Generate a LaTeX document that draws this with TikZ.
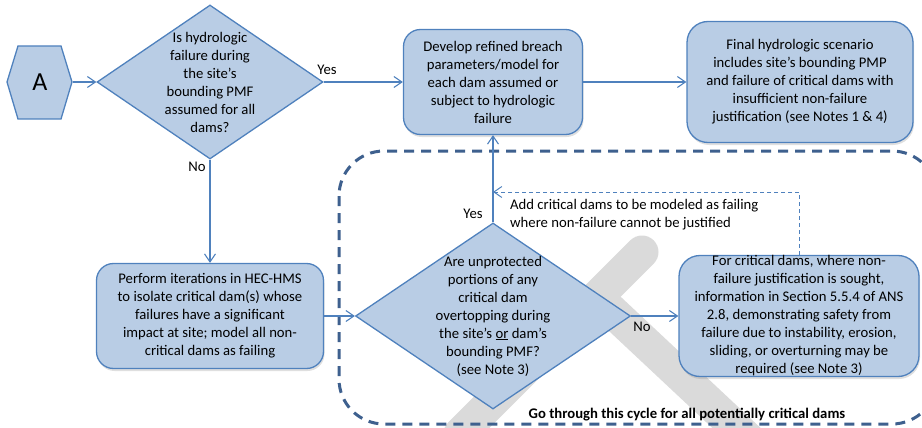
\documentclass[tikz,border=0pt]{standalone}
\usepackage{fontspec}
\setmainfont{Carlito}
\usepackage{tikz}
\usetikzlibrary{
  arrows.meta,
  shapes.geometric,
  chains,
  positioning,
  scopes,
  shadows
}
\definecolor{boxfill}{RGB}{185,205,229}
\definecolor{boxline}{RGB}{79,129,189}
\definecolor{loopline}{RGB}{62,96,142}
\definecolor{bandgray}{RGB}{218,218,218}

\begin{document}
\begin{tikzpicture}[
      x=1pt,y=-1pt,
      font=\fontsize{14.7}{18}\selectfont,
      process/.style={
         rectangle,
         rounded corners=17pt,
         draw=boxline,
         line width=1.3pt,
         fill=boxfill,
         align=center,
         inner sep=0pt,
         drop shadow={shadow xshift=1pt,shadow yshift=-2.5pt,opacity=0.25}
      },
      decision/.style={
         diamond,
         draw=boxline,
         line width=1.3pt,
         fill=boxfill,
         inner sep=0pt
      },
      hexagon/.style={draw=boxline,line width=1.3pt,fill=boxfill},
      point/.style={coordinate},
      >={Straight Barb[length=8pt,width=11pt]},
      tip/.style={->},
      every join/.style={draw=boxline,line width=1.1pt},
      feedback/.style={line width=1pt,dash pattern=on 4pt off 3pt},
      band/.style={draw=bandgray,line width=33pt,line cap=round},
      loop frame/.style={draw=loopline,line width=3pt,dash pattern=on 10pt off 7pt,rounded corners=45pt}
    ]
    \useasboundingbox (0,0) rectangle (922,428);
    \clip (0,0) rectangle (922,428);
    % background marks
    \draw[band] (460,434) -- (642,252);
    \draw[band] (600,300) -- (760,450);
    \draw[loop frame] (339,151) rectangle (937,424);
    \draw[hexagon] (7,82) -- (18,46) -- (61,46) -- (72,82) -- (61,119) -- (18,119) -- cycle;
    % nodes
    \node (n11) [minimum width=65pt, minimum height=73pt, inner sep=0pt] at (40,82) {\fontsize{26}{30}\selectfont A};
    \node (n12) [decision, minimum width=226pt, minimum height=154pt,
       label={[name=t12,align=center]center:Is hydrologic\\failure during\\the site’s\\bounding PMF\\assumed for all\\dams?}] at (210,82) {};
    \node (n13) [process, minimum width=179pt, minimum height=105pt] at (493,82)
       {Develop refined breach\\parameters/model for\\each dam assumed or\\subject to hydrologic\\failure};
    \node (n14) [process, rounded corners=21pt, minimum width=226pt, minimum height=121pt] at (800,82)
       {Final hydrologic scenario\\includes site’s bounding PMP\\and failure of critical dams with\\insufficient non-failure\\justification (see Notes 1 \& 4)};
    \node (n22) [process, minimum width=227pt, minimum height=105pt] at (210,316)
       {Perform iterations in HEC-HMS\\to isolate critical dam(s) whose\\failures have a significant\\impact at site; model all non-\\critical dams as failing};
    \node (n23) [decision, minimum width=275pt, minimum height=186pt,
       label={[name=t23,align=center]center:Are unprotected\\portions of any\\critical dam\\overtopping during\\the site’s \underline{or} dam’s\\bounding PMF?\\(see Note 3)}] at (493,316) {};
    \node (n24) [process, rounded corners=21pt, minimum width=240pt, minimum height=121pt] at (799,316)
       {For critical dams, where non-\\failure justification is sought,\\information in Section 5.5.4 of ANS\\2.8, demonstrating safety from\\failure due to instability, erosion,\\sliding, or overturning may be\\required (see Note 3)};
    \node (n34) [point] at (799,192) {};
    \node (n33) [point] at (493,192) {};
    % labels
    \node (l1) at (327,70) {Yes};
    \node (l2) at (197,167) {No};
    \node (l3) at (473,214) {Yes};
    \node (l4) at (642,327) {No};
    \node (l5) [anchor=west, align=left, inner sep=0pt] at (510,214.5)
       {Add critical dams to be modeled as failing\\where non-failure cannot be justified};
    \node (l6) at (687,415) {\bfseries Go through this cycle for all potentially critical dams};
  { [start chain]
       \chainin (n11);
       \chainin (n12)    [join=by tip];
       \chainin (n13)    [join=by tip];
       \chainin (n14)    [join=by tip];
  }
  { [start chain]
       \chainin (n12);
       \chainin (n22)    [join=by tip];
       \chainin (n23)    [join=by tip];
       \chainin (n13)    [join=by tip];
  }
  { [start chain]
       \chainin (n23);
       \chainin (n24)    [join=by tip];
       \chainin (n34)    [join=by feedback];
       \chainin (n33)    [join=by {feedback,tip}];
  }
\end{tikzpicture}
\end{document}
